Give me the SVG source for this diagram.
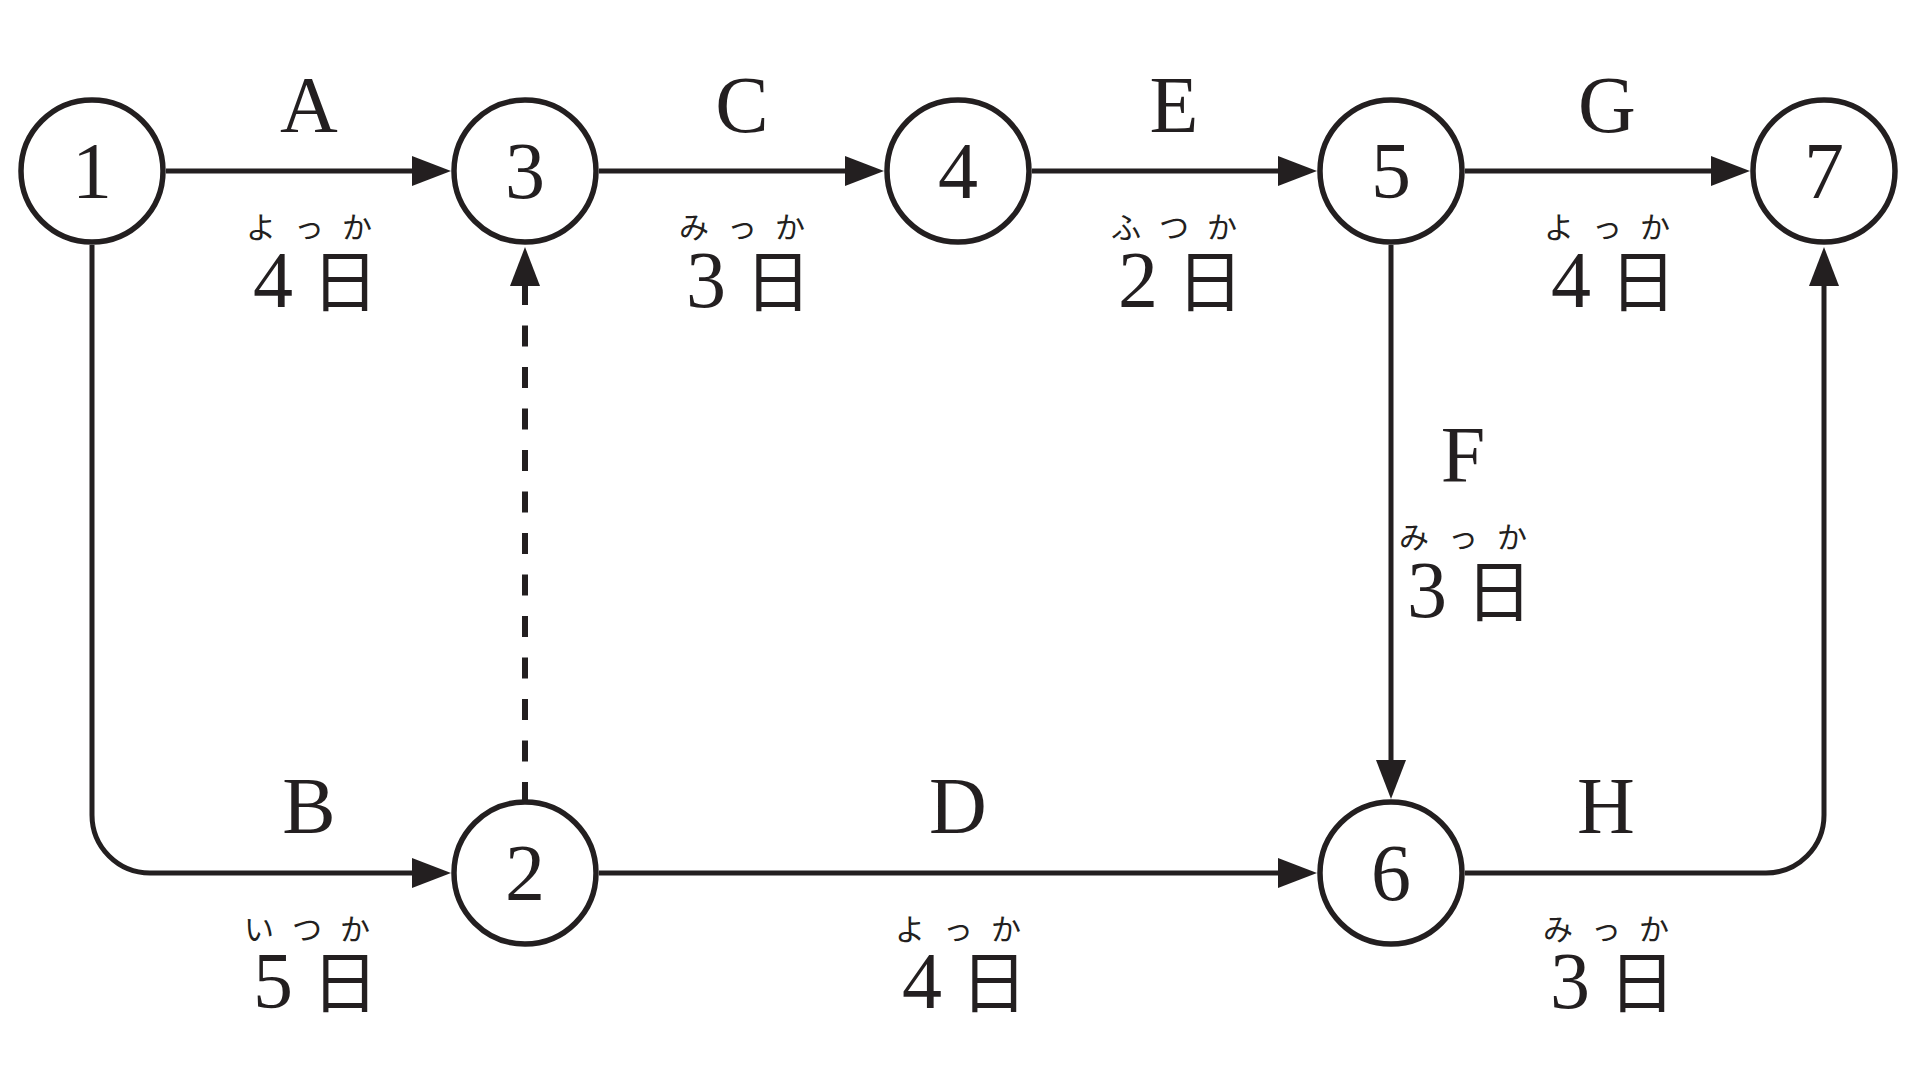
<svg xmlns="http://www.w3.org/2000/svg" width="1920" height="1080" viewBox="0 0 1920 1080">
<style>
.node circle{fill:#fff;stroke:#231f20;stroke-width:5.5}
.num{font-family:"Liberation Serif","Times New Roman",serif;font-size:80px;fill:#231f20;text-anchor:middle}
.lab{font-family:"Liberation Serif","Times New Roman",serif;font-size:80px;fill:#231f20;text-anchor:middle}
.kana{font-family:"Noto Sans CJK JP","Noto Sans CJK SC",sans-serif;font-size:30px;fill:#231f20;text-anchor:middle}
.day{font-family:"Noto Sans CJK JP","Noto Sans CJK SC",sans-serif;font-size:67px;fill:#231f20;text-anchor:middle}
.edge{fill:none;stroke:#231f20;stroke-width:5;marker-end:url(#arr)}
.dash{stroke-width:6;stroke-dasharray:21 20.5}
</style>
<defs>
<marker id="arr" markerUnits="userSpaceOnUse" markerWidth="42" markerHeight="32" refX="1" refY="15" orient="auto" overflow="visible">
<path d="M0,0 L39,15 L0,30 Z" fill="#231f20"/>
</marker>
</defs>
<rect width="1920" height="1080" fill="#fff"/>
<g id="connectors">
<path id="e-A" class="edge" d="M166,171 H413"/>
<path id="e-C" class="edge" d="M599,171 H846"/>
<path id="e-E" class="edge" d="M1032,171 H1279"/>
<path id="e-G" class="edge" d="M1465,171 H1712"/>
<path id="e-B" class="edge" d="M92,245 V815 A58,58 0 0 0 150,873 H413"/>
<path id="e-D" class="edge" d="M599,873 H1279"/>
<path id="e-H" class="edge" d="M1465,873 H1766 A58,58 0 0 0 1824,815 V285"/>
<path id="e-F" class="edge" d="M1391,245 V761"/>
<path id="e-dummy" class="edge dash" d="M525,803 V285"/>
</g>
<g id="edge-labels">
<g id="lab-A">
<text class="lab" x="309" y="132">A</text>
<text class="kana" x="261" y="238">よ</text><text class="kana" x="309" y="238">っ</text><text class="kana" x="357" y="238">か</text>
<text class="num" x="273" y="307">4</text><text class="day" x="345" y="306">日</text>
</g>
<g id="lab-C">
<text class="lab" x="742" y="132">C</text>
<text class="kana" x="694" y="238">み</text><text class="kana" x="742" y="238">っ</text><text class="kana" x="790" y="238">か</text>
<text class="num" x="706" y="307">3</text><text class="day" x="778" y="306">日</text>
</g>
<g id="lab-E">
<text class="lab" x="1174" y="132">E</text>
<text class="kana" x="1126" y="238">ふ</text><text class="kana" x="1174" y="238">つ</text><text class="kana" x="1222" y="238">か</text>
<text class="num" x="1138" y="307">2</text><text class="day" x="1210" y="306">日</text>
</g>
<g id="lab-G">
<text class="lab" x="1607" y="132">G</text>
<text class="kana" x="1559" y="238">よ</text><text class="kana" x="1607" y="238">っ</text><text class="kana" x="1655" y="238">か</text>
<text class="num" x="1571" y="307">4</text><text class="day" x="1643" y="306">日</text>
</g>
<g id="lab-B">
<text class="lab" x="309" y="833">B</text>
<text class="kana" x="259" y="940">い</text><text class="kana" x="307" y="940">つ</text><text class="kana" x="355" y="940">か</text>
<text class="num" x="273" y="1008">5</text><text class="day" x="345" y="1007">日</text>
</g>
<g id="lab-D">
<text class="lab" x="958" y="833">D</text>
<text class="kana" x="910" y="940">よ</text><text class="kana" x="958" y="940">っ</text><text class="kana" x="1006" y="940">か</text>
<text class="num" x="922" y="1008">4</text><text class="day" x="994" y="1007">日</text>
</g>
<g id="lab-H">
<text class="lab" x="1606" y="833">H</text>
<text class="kana" x="1558" y="940">み</text><text class="kana" x="1606" y="940">っ</text><text class="kana" x="1654" y="940">か</text>
<text class="num" x="1570" y="1008">3</text><text class="day" x="1642" y="1007">日</text>
</g>
<g id="lab-F">
<text class="lab" x="1463" y="482">F</text>
<text class="kana" x="1414" y="548">み</text><text class="kana" x="1463" y="548">っ</text><text class="kana" x="1512" y="548">か</text>
<text class="num" x="1427" y="617">3</text><text class="day" x="1499" y="616">日</text>
</g>
</g>
<g id="node-1" class="node"><circle cx="92" cy="171" r="71"/><text class="num" x="92" y="198">1</text></g>
<g id="node-3" class="node"><circle cx="525" cy="171" r="71"/><text class="num" x="525" y="198">3</text></g>
<g id="node-4" class="node"><circle cx="958" cy="171" r="71"/><text class="num" x="958" y="198">4</text></g>
<g id="node-5" class="node"><circle cx="1391" cy="171" r="71"/><text class="num" x="1391" y="198">5</text></g>
<g id="node-7" class="node"><circle cx="1824" cy="171" r="71"/><text class="num" x="1824" y="198">7</text></g>
<g id="node-2" class="node"><circle cx="525" cy="873" r="71"/><text class="num" x="525" y="900">2</text></g>
<g id="node-6" class="node"><circle cx="1391" cy="873" r="71"/><text class="num" x="1391" y="900">6</text></g>
</svg>
